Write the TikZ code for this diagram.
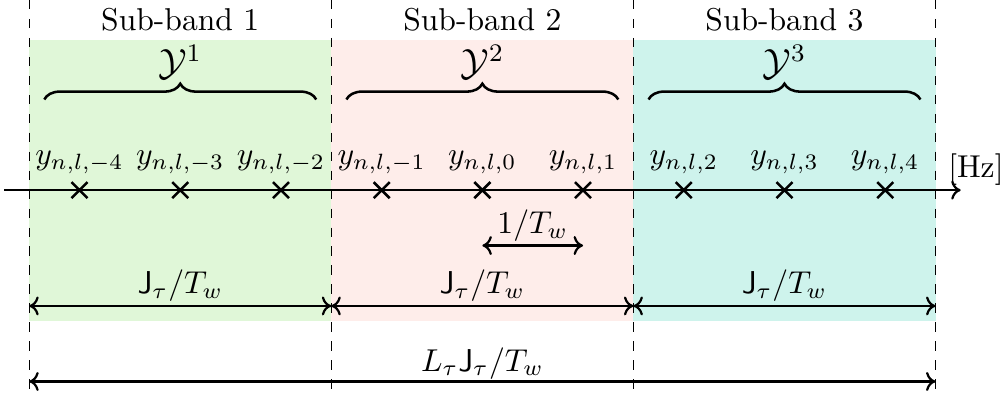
\documentclass[tikz,border=0pt]{standalone}
\usepackage{amsmath}
\usetikzlibrary{decorations.pathreplacing,shapes.misc,arrows.meta}
\definecolor{bandA}{RGB}{224,247,216}
\definecolor{bandB}{RGB}{254,237,234}
\definecolor{bandC}{RGB}{206,243,236}
\begin{document}
\begin{tikzpicture}[x=1.12cm,y=1.12cm,
  >={To[width=6pt,length=3pt]},
  sep/.style={dashed, line width=0.4pt},
  mark x/.style={cross out, draw, thick, inner sep=0pt, minimum size=0.15cm},
  dim/.style={line width=0.7pt, <->},
  ylab/.style={anchor=base}]
\useasboundingbox (-0.29,-2.024) rectangle (9.67,1.888);
% bands
\fill[bandA] (0,-1.3) rectangle (3,1.49);
\fill[bandB] (3,-1.3) rectangle (6,1.49);
\fill[bandC] (6,-1.3) rectangle (9,1.49);
% separators
\foreach \i/\x in {0/0,1/3,2/6,3/9}{
  \coordinate (t\i) at (\x,1.888);
  \coordinate (b\i) at (\x,-2.024);
  \draw[sep] (t\i) -- (b\i);
}
% titles
\node (s1) at (1.5,1.69) {Sub-band 1};
\node (s2) at (4.5,1.69) {Sub-band 2};
\node (s3) at (7.5,1.69) {Sub-band 3};
% braces
\foreach \k/\x in {1/0,2/3,3/6}{
  \coordinate (bl\k) at (\x+0.15,0.9);
  \coordinate (br\k) at (\x+2.85,0.9);
  \draw[thick, decorate, decoration={brace, amplitude=5pt}] (bl\k) -- (br\k);
  \node (Y\k) at (\x+1.5,1.27) {\large $\mathcal{Y}^{\k}$};
}
% axis
\coordinate (a0) at (-0.25,0);
\coordinate (a1) at (9.25,0);
\draw[line width=0.7pt,->] (a0) -- (a1);
\node[anchor=base west, inner sep=0pt] (hz) at (9.12,0.13) {[Hz]};
% samples
\foreach \n [count=\j from 0] in {-4,-3,-2,-1,0,1,2,3,4}{
  \node[mark x] (m\j) at (\j+0.5,0) {};
  \node[ylab] (y\j) at (\j+0.5,0.25) {$y_{n,l,\n}$};
}
% 1/Tw
\coordinate (p0) at (4.5,-0.55);
\coordinate (p1) at (5.5,-0.55);
\draw[dim] (p0) -- (p1);
\node (lw) at (5,-0.35) {$1/T_w$};
% band widths
\foreach \k/\x in {1/0,2/3,3/6}{
  \coordinate (ql\k) at (\x,-1.15);
  \coordinate (qr\k) at (\x+3,-1.15);
  \draw[dim] (ql\k) -- (qr\k);
  \node (J\k) at (\x+1.5,-0.95) {$\mathsf{J}_\tau/T_w$};
}
% total
\coordinate (r0) at (0,-1.9);
\coordinate (r1) at (9,-1.9);
\draw[dim] (r0) -- (r1);
\node (L) at (4.5,-1.72) {$L_\tau\mathsf{J}_\tau/T_w$};
\end{tikzpicture}
\end{document}
